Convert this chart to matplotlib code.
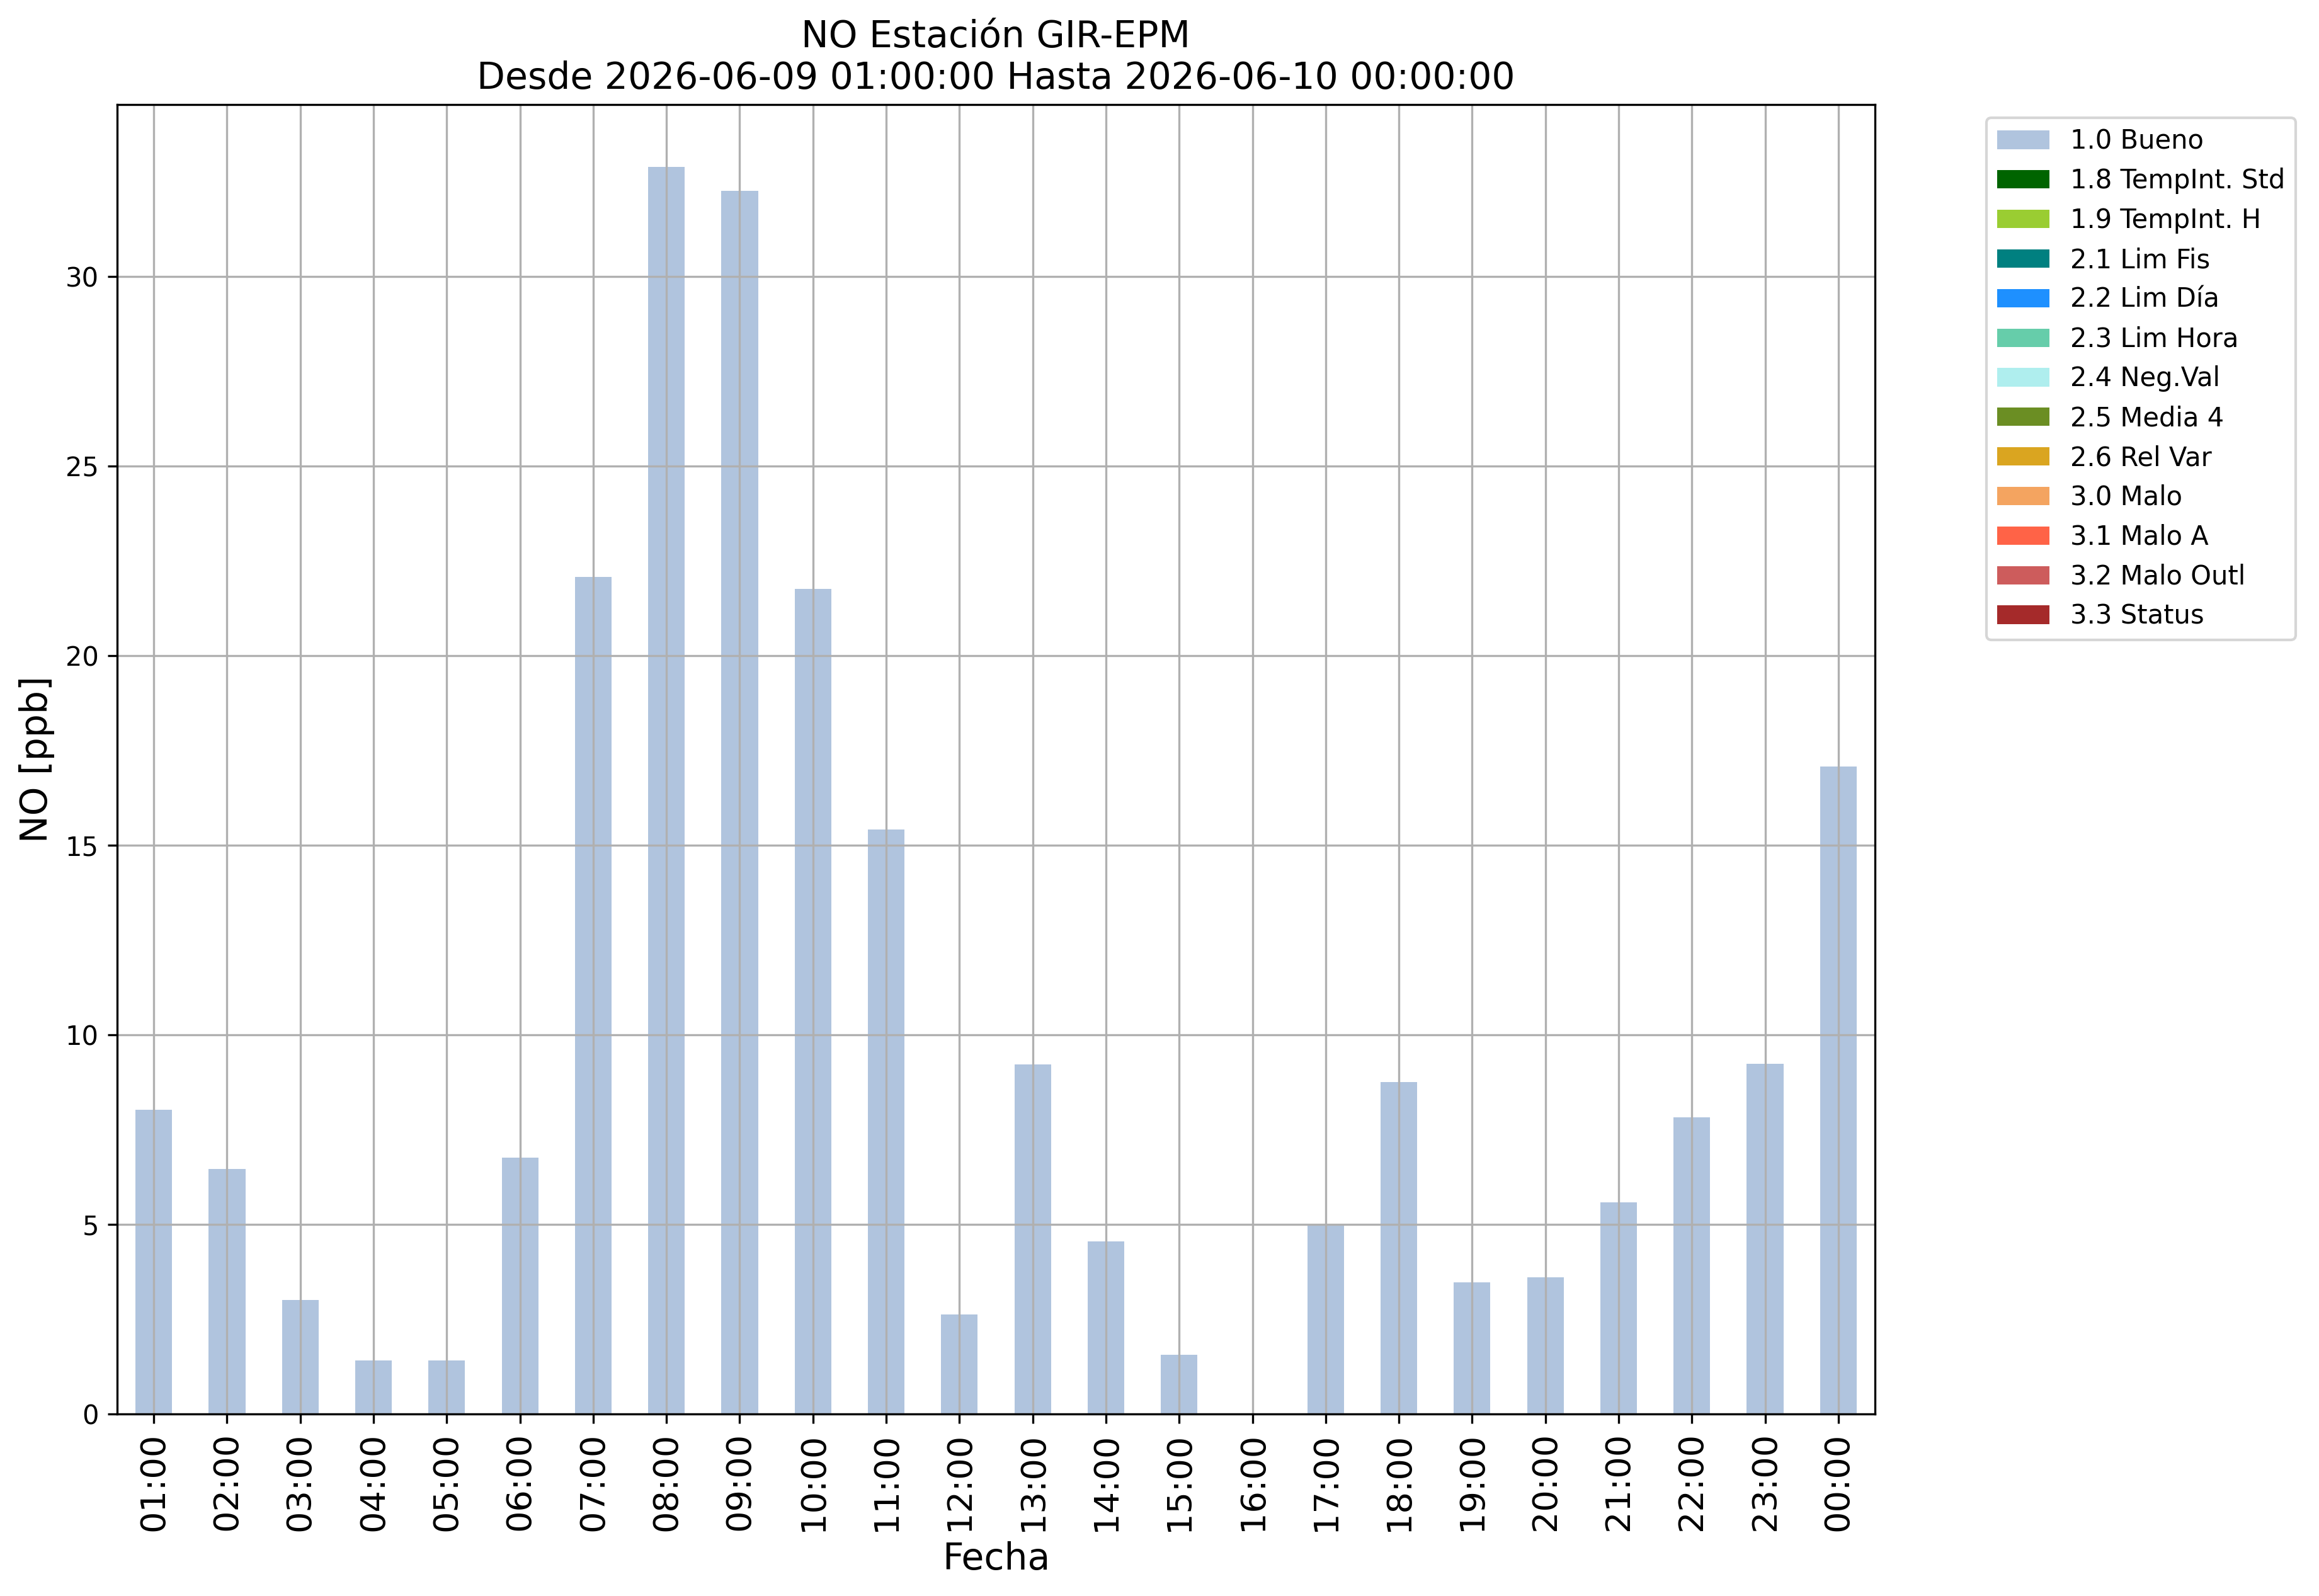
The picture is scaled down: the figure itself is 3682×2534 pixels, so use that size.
import numpy as np
import matplotlib
matplotlib.use("Agg")
import matplotlib.pyplot as plt

hours = ["01:00", "02:00", "03:00", "04:00", "05:00", "06:00", "07:00", "08:00",
         "09:00", "10:00", "11:00", "12:00", "13:00", "14:00", "15:00", "16:00",
         "17:00", "18:00", "19:00", "20:00", "21:00", "22:00", "23:00", "00:00"]

bueno = [8.03, 6.47, 3.01, 1.42, 1.42, 6.76, 22.07, 32.89, 32.26, 21.76, 15.42, 2.62,
         9.22, 4.55, 1.56, np.nan, 5.00, 8.75, 3.48, 3.60, 5.58, 7.82, 9.24, 17.08]

flag_labels = ["1.0 Bueno", "1.8 TempInt. Std", "1.9 TempInt. H", "2.1 Lim Fis",
               "2.2 Lim Día", "2.3 Lim Hora", "2.4 Neg.Val", "2.5 Media 4",
               "2.6 Rel Var", "3.0 Malo", "3.1 Malo A", "3.2 Malo Outl", "3.3 Status"]
flag_colors = ["lightsteelblue", "darkgreen", "yellowgreen", "teal", "dodgerblue",
               "mediumaquamarine", "paleturquoise", "olivedrab", "goldenrod",
               "sandybrown", "tomato", "indianred", "brown"]

series = [bueno] + [[0.0] * len(hours) for _ in flag_labels[1:]]

W, H, DPI = 3682, 2534, 300
fig = plt.figure(figsize=(W / DPI, H / DPI), dpi=DPI)
ax = fig.add_axes([186 / W, (H - 2245) / H, 2791 / W, 2079 / H])

x = np.arange(len(hours))
bottom = np.zeros(len(hours))
for i, (vals, lab, col) in enumerate(zip(series, flag_labels, flag_colors)):
    v = np.nan_to_num(np.array(vals, dtype=float))
    cont = ax.bar(x, v, width=0.5, bottom=bottom, color=col, label=lab)
    if i > 0:
        for p in cont:
            p.sticky_edges.y[:] = []
    bottom = bottom + v

ax.set_xlim(-0.5, len(hours) - 0.5)
ax.set_xticks(x)
ax.set_xticklabels(hours, rotation=90, fontsize=13)
ax.tick_params(axis="y", labelsize=10)
ax.grid(True)
ax.set_xlabel("Fecha", fontsize=14)
ax.set_ylabel("NO [ppb]", fontsize=14)
ax.set_title("NO Estación GIR-EPM\nDesde 2026-06-09 01:00:00 Hasta 2026-06-10 00:00:00",
             fontsize=14)
ax.legend(bbox_to_anchor=(1.056, 1), loc="upper left", fontsize=10)

fig.savefig("out.png", dpi=DPI)
